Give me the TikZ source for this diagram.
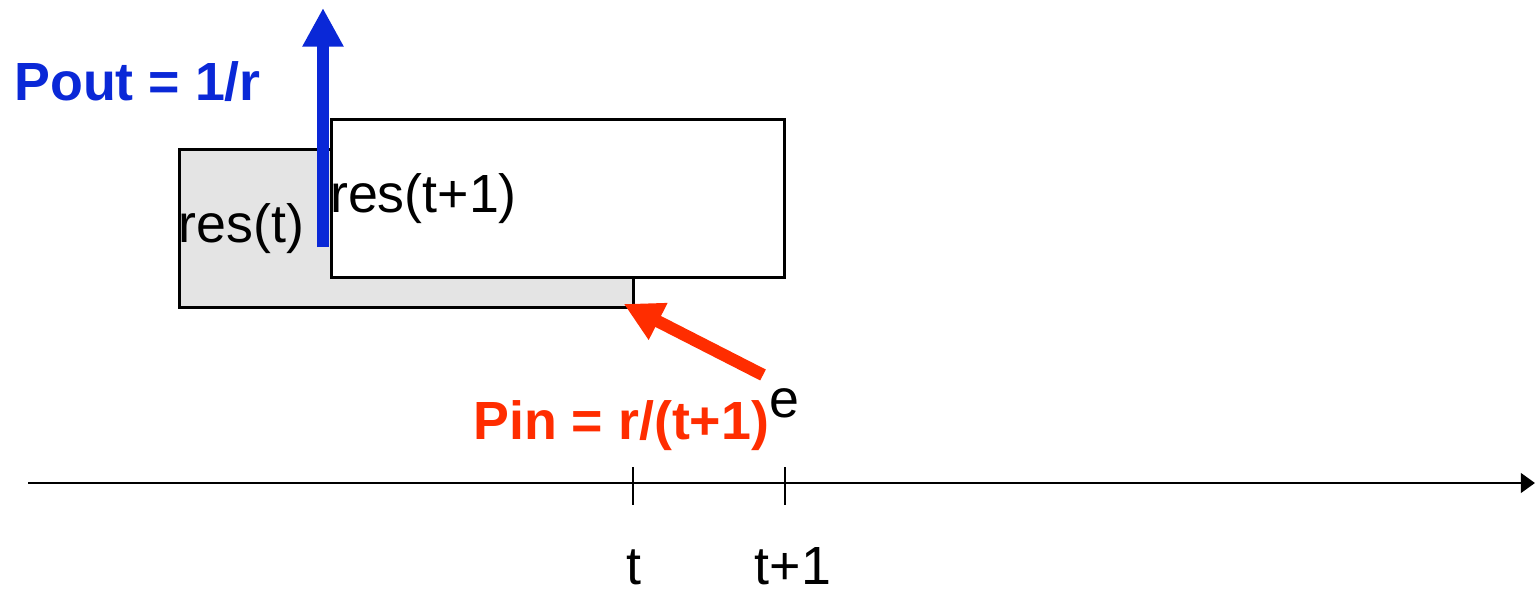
\documentclass[tikz,border=0pt]{standalone}
\usepackage{fontspec}
\setmainfont{Liberation Sans}
\usetikzlibrary{arrows.meta,positioning}
\definecolor{poutblue}{RGB}{10,40,215}
\definecolor{pinred}{RGB}{255,45,0}
\definecolor{resgray}{RGB}{228,228,228}

\begin{document}
\begin{tikzpicture}[
            x=0.02cm, y=-0.02cm,
            resbox/.style={rectangle, draw, line width=1.7pt, minimum width=9.07cm, minimum height=3.18cm, inner sep=0pt},
            restext/.style={anchor=west, inner sep=0pt, font=\fontsize{30.6}{36}\selectfont},
            powerlabel/.style={anchor=base west, inner sep=0pt, font=\fontsize{30.6}{36}\selectfont\bfseries},
            axislabel/.style={anchor=base, inner sep=0pt, font=\fontsize{30.6}{36}\selectfont},
            thickarrow/.style={line width=7pt, -{Triangle[width=22pt, length=22pt]}},
            tickmark/.style={line width=1.7pt}
        ]
            \useasboundingbox (0,0) rectangle (1536,595);

            % old reservation, grey
            \node[resbox, fill=resgray] (rest) at (406.5,228.5) {};
            \node[restext] (rest text) at (rest.west) {res(t)};

            % power out
            \coordinate (outtail) at (323,247);
            \coordinate (outtip) at (323,8);
            \draw[thickarrow, poutblue] (outtail) -- (outtip);
            \node[powerlabel, text=poutblue] (pout) at (14,100) {Pout = 1/r};

            % new reservation
            \node[resbox, fill=white] (resnext) at (558,198.5) {};
            \node[restext] (resnext text) at (resnext.west) {res(t+1)};

            % power in
            \coordinate (pintail) at (763,375);
            \draw[thickarrow, pinred, shorten >=-7pt] (pintail) -- (rest.south east);
            \node[powerlabel, text=pinred] (pin) at (473,439) {Pin = r/(t+1)\raisebox{12.5pt}{\mdseries\color{black}e}};

            % time axis
            \coordinate (axisstart) at (28,483);
            \coordinate (axisend) at (1535,483);
            \draw[line width=1.7pt, -{Triangle[width=11pt, length=8pt]}] (axisstart) -- (axisend);
            \coordinate (tick t) at (633,483);
            \coordinate (tick next) at (785,483);
            \draw[tickmark] (tick t) ++(0,-16) -- ++(0,38);
            \draw[tickmark] (tick next) ++(0,-16) -- ++(0,38);
            \node[axislabel] (t label) at (634,584) {t};
            \node[axislabel] (next label) at (793,584) {t+1};
        \end{tikzpicture}
\end{document}
